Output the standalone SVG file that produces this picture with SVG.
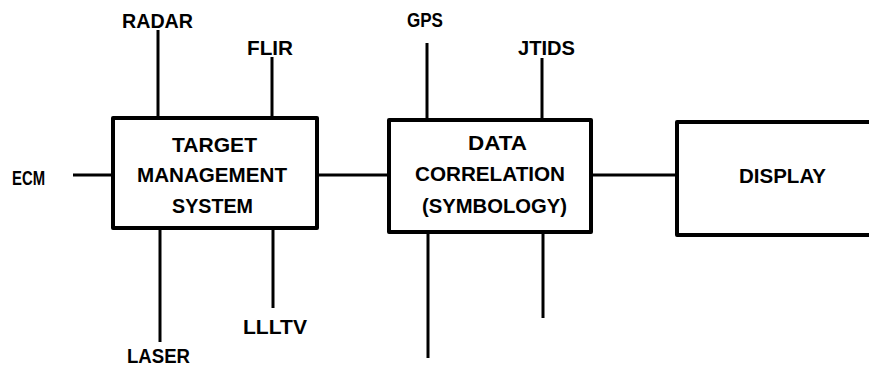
<svg xmlns="http://www.w3.org/2000/svg" width="869" height="366" viewBox="0 0 869 366">
<style>
.box{fill:#fff;stroke:#000;stroke-width:4;stroke-linejoin:round}
.ln{stroke:#000;stroke-width:3;fill:none;stroke-linecap:butt}
.t{font-family:"Liberation Sans",Arial,sans-serif;font-weight:bold;font-size:20px;fill:#000}
</style>
<rect width="869" height="366" fill="#fff"/>
<g id="connectors">
<line class="ln" x1="158" y1="30" x2="158" y2="118"/>
<line class="ln" x1="272" y1="57" x2="272" y2="118"/>
<line class="ln" x1="73" y1="175" x2="113" y2="175"/>
<line class="ln" x1="160" y1="228" x2="160" y2="342"/>
<line class="ln" x1="273" y1="228" x2="273" y2="308"/>
<line class="ln" x1="317" y1="175" x2="389" y2="175"/>
<line class="ln" x1="427" y1="43" x2="427" y2="120"/>
<line class="ln" x1="542" y1="58" x2="542" y2="120"/>
<line class="ln" x1="428" y1="232" x2="428" y2="358"/>
<line class="ln" x1="543" y1="232" x2="543" y2="318"/>
<line class="ln" x1="591" y1="175" x2="677" y2="175"/>
</g>
<g id="tms">
<rect class="box" x="113" y="118" width="204" height="110"/>
<text class="t" x="172" y="152" textLength="85" lengthAdjust="spacingAndGlyphs">TARGET</text>
<text class="t" x="137" y="182" textLength="150" lengthAdjust="spacingAndGlyphs">MANAGEMENT</text>
<text class="t" x="172" y="213" textLength="81" lengthAdjust="spacingAndGlyphs">SYSTEM</text>
</g>
<g id="datacorr">
<rect class="box" x="389" y="120" width="202" height="112"/>
<text class="t" x="468" y="150" textLength="59" lengthAdjust="spacingAndGlyphs">DATA</text>
<text class="t" x="415" y="181" textLength="150" lengthAdjust="spacingAndGlyphs">CORRELATION</text>
<text class="t" x="422" y="213" textLength="145" lengthAdjust="spacingAndGlyphs">(SYMBOLOGY)</text>
</g>
<g id="display">
<rect class="box" x="677" y="122" width="220" height="113"/>
<text class="t" x="739" y="183" textLength="87" lengthAdjust="spacingAndGlyphs">DISPLAY</text>
</g>
<g id="radar"><text class="t" x="122" y="28" textLength="71" lengthAdjust="spacingAndGlyphs">RADAR</text></g>
<g id="flir"><text class="t" x="247" y="55" textLength="46" lengthAdjust="spacingAndGlyphs">FLIR</text></g>
<g id="ecm"><text class="t" x="12" y="185" textLength="33" lengthAdjust="spacingAndGlyphs">ECM</text></g>
<g id="laser"><text class="t" x="127" y="363" textLength="63" lengthAdjust="spacingAndGlyphs">LASER</text></g>
<g id="llltv"><text class="t" x="243" y="334" textLength="64" lengthAdjust="spacingAndGlyphs">LLLTV</text></g>
<g id="gps"><text class="t" x="407" y="27" textLength="36" lengthAdjust="spacingAndGlyphs">GPS</text></g>
<g id="jtids"><text class="t" x="518" y="55" textLength="57" lengthAdjust="spacingAndGlyphs">JTIDS</text></g>
</svg>
